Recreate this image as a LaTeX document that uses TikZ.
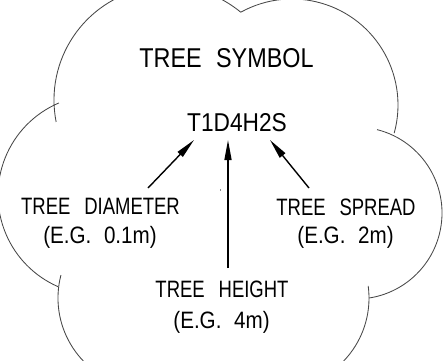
\documentclass[tikz,border=0pt]{standalone}
\usepackage{graphicx}
\usepackage{fontspec}
\setmainfont[FakeStretch=0.78,WordSpace=2.7]{Liberation Sans}
\newfontfamily\titlefont[FakeStretch=0.86,WordSpace=2.2]{Liberation Sans}
\newfontfamily\codefont[FakeStretch=0.88]{Liberation Sans}
\newfontfamily\egfont[FakeStretch=0.87,WordSpace=2.2]{Liberation Sans}
\usetikzlibrary{arrows.meta}
\tikzset{
  cloud/.style={draw=black!72,line width=0.85pt},
  lbl/.style={inner sep=0pt,anchor=base,text=black},
  ptr/.style={line width=1.4pt,-{Triangle[length=20pt,width=7pt]}}
}
\begin{document}
\begin{tikzpicture}[x=1pt,y=1pt]
\useasboundingbox (0,0) rectangle (444,360);
\clip (0,0) rectangle (444,360);
% cloud outline
\draw[cloud] ([shift={(168,260)}]191.1:114pt) arc[start angle=191.1,end angle=50.3,radius=114pt];
\draw[cloud] ([shift={(292,255)}]118.7:106pt) arc[start angle=118.7,end angle=-15.4,radius=106pt];
\draw[cloud] ([shift={(98,165)}]113:100pt) arc[start angle=113,end angle=246.5,radius=100pt];
\draw[cloud] ([shift={(149,62)}]165.4:91pt) arc[start angle=165.4,end angle=300,radius=91pt];
\draw[cloud] ([shift={(356,147)}]75.8:86pt) arc[start angle=75.8,end angle=-81.3,radius=86pt];
\draw[cloud] ([shift={(278,62)}]7.6:91pt) arc[start angle=7.6,end angle=-120,radius=91pt];
% texts
\node[lbl,font=\titlefont\fontsize{27.2}{30}\selectfont] (title) at (226.5,293) {TREE SYMBOL};
\node[lbl,font=\codefont\fontsize{25.8}{28}\selectfont] (code) at (237,229) {T1D4H2S};
\node[lbl,font=\fontsize{23.7}{26}\selectfont] (diam) at (100.5,146) {TREE DIAMETER};
\node[lbl,font=\egfont\fontsize{23.7}{26}\selectfont] (diamx) at (100,117) {(E.G. 0.1m)};
\node[lbl,font=\fontsize{23.7}{26}\selectfont] (spread) at (346,145) {TREE SPREAD};
\node[lbl,font=\egfont\fontsize{23.7}{26}\selectfont] (spreadx) at (345.5,117) {(E.G. 2m)};
\node[lbl,font=\fontsize{23.7}{26}\selectfont] (height) at (222,63) {TREE HEIGHT};
\node[lbl,font=\egfont\fontsize{23.7}{26}\selectfont] (heightx) at (221.5,32) {(E.G. 4m)};
% arrows
\coordinate (dt) at (148,172);
\coordinate (dh) at (194,220);
\coordinate (ht) at (228,92);
\coordinate (hh) at (228,220);
\coordinate (st) at (309,172);
\coordinate (sh) at (270,220);
\draw[ptr] (dt) -- (dh);
\draw[ptr] (ht) -- (hh);
\draw[ptr] (st) -- (sh);
\fill[black!45] (220,169) rectangle (221,171);
\end{tikzpicture}
\end{document}
